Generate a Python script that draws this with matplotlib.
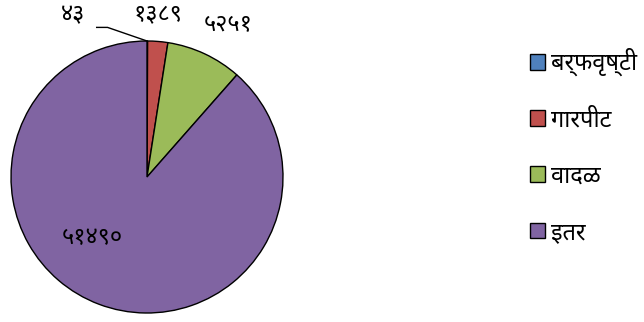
import matplotlib
matplotlib.use('Agg')
import matplotlib.pyplot as plt
from matplotlib.patches import Patch

plt.rcParams['font.family'] = ['Noto Sans Devanagari', 'Mukta', 'Hind', 'DejaVu Sans']

categories = ['बर्फवृष्टी', 'गारपीट', 'वादळ', 'इतर']
values = [43, 1389, 5251, 51490]
colors = ['#4F81BD', '#C0504D', '#9BBB59', '#8064A2']

# label positions in pie-radius units
label_pos = [(-0.54, 1.19), (0.08, 1.19), (0.60, 1.12), (-0.40, -0.45)]

deva = str.maketrans('0123456789', '०१२३४५६७८९')

fig = plt.figure(figsize=(6.44, 3.22), dpi=100)
ax = fig.add_axes([11 / 644, 9 / 322, 272 / 644, 272 / 322])
wedges, _ = ax.pie(values, colors=colors, startangle=90, counterclock=False,
                   wedgeprops=dict(edgecolor='black', linewidth=1.0))
ax.set_xlim(-1, 1)
ax.set_ylim(-1, 1)
ax.set_aspect('equal')
ax.axis('off')

for v, (x, y) in zip(values, label_pos):
    ax.text(x, y, str(v).translate(deva), ha='center', va='center',
            fontsize=17, clip_on=False)

# leader line for the tiny slice
ax.plot([-0.37, -0.29, 0.0], [1.10, 1.10, 1.0], color='black', lw=1.0, clip_on=False)

handles = [Patch(facecolor=c, edgecolor='black', linewidth=1.0) for c in colors]
fig.legend(handles, categories, loc='upper left', bbox_to_anchor=(530 / 644, 1 - 48 / 322),
           frameon=False, fontsize=17, handlelength=0.65, handleheight=0.65,
           handletextpad=0.25, labelspacing=1.36, borderpad=0, borderaxespad=0)

fig.savefig('out.png')
